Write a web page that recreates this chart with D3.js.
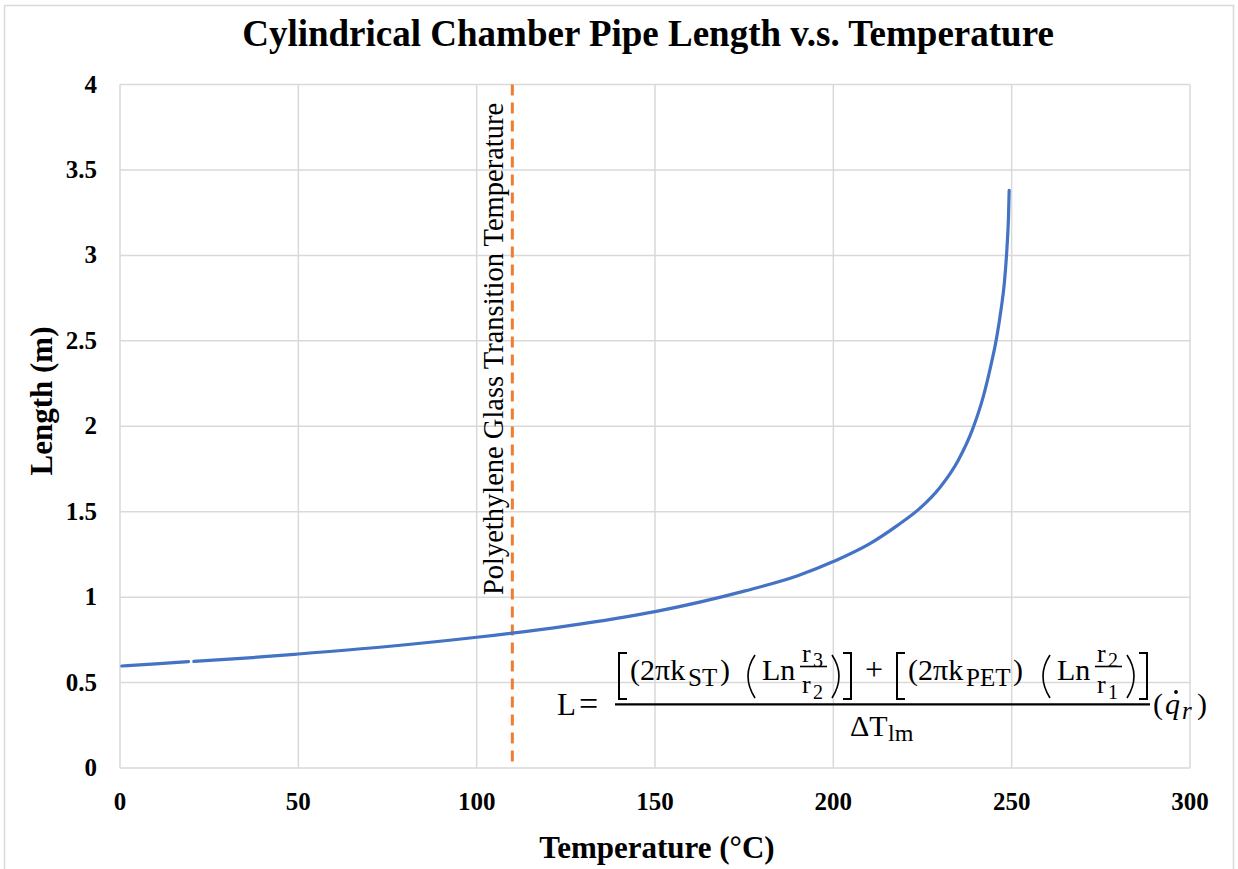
<!DOCTYPE html>
<html>
<head>
<meta charset="utf-8">
<script src="https://cdn.jsdelivr.net/npm/d3@7"></script>
<style>
  body { margin: 0; background: #fff; }
  text { font-family: "Liberation Serif", "Times New Roman", serif; fill: #000; }
  .tick-label { font-size: 25px; font-weight: bold; }
  .axis-title { font-size: 31px; font-weight: bold; }
  .chart-title { font-size: 37px; font-weight: bold; }
  .gridline { stroke: #d9d9d9; stroke-width: 1.5; }
</style>
</head>
<body>
<div id="chart"></div>
<script>
// Cylindrical chamber pipe length vs temperature
// X: temperature (°C), Y: length (m)

const temperature = [0.5, 10, 19.2, null, 20.7, 35, 50, 75, 100, 125, 150, 175, 190,
                     200, 210, 218, 224, 230, 235, 239, 242, 244, 245.8,
                     247, 248, 248.7, 249.1, 249.3];
const lengthM     = [0.597, 0.609, 0.622, null, 0.624, 0.643, 0.667, 0.711, 0.765, 0.830, 0.915, 1.035, 1.125,
                     1.208, 1.31, 1.42, 1.515, 1.645, 1.80, 1.98, 2.17, 2.34, 2.52,
                     2.68, 2.85, 3.05, 3.22, 3.38];

const xTicks = [0, 50, 100, 150, 200, 250, 300];
const yTicks = [0, 0.5, 1, 1.5, 2, 2.5, 3, 3.5, 4];
const yTickLabels = ["0", "0.5", "1", "1.5", "2", "2.5", "3", "3.5", "4"];

const glassTransition = 110;
const glassLabel = "Polyethylene Glass Transition Temperature";

function drawChart() {
  const W = 1238, H = 869;
  const plot = { left: 120, right: 1190, top: 84.5, bottom: 768 };

  const svg = d3.select("#chart").append("svg")
    .attr("width", W)
    .attr("height", H);

  svg.append("rect")
    .attr("width", W).attr("height", H)
    .attr("fill", "#fff");

  // outer chart border
  svg.append("rect")
    .attr("x", 4.5).attr("y", 5.5)
    .attr("width", 1229).attr("height", 880)
    .attr("fill", "none")
    .attr("stroke", "#d9d9d9")
    .attr("stroke-width", 1.5);

  const x = d3.scaleLinear().domain([0, 300]).range([plot.left, plot.right]);
  const y = d3.scaleLinear().domain([0, 4]).range([plot.bottom, plot.top]);

  // gridlines
  svg.append("g").selectAll("line")
    .data(yTicks).join("line")
    .attr("class", "gridline")
    .attr("x1", plot.left).attr("x2", plot.right)
    .attr("y1", d => y(d)).attr("y2", d => y(d));

  svg.append("g").selectAll("line")
    .data(xTicks).join("line")
    .attr("class", "gridline")
    .attr("x1", d => x(d)).attr("x2", d => x(d))
    .attr("y1", plot.top).attr("y2", plot.bottom);

  // tick labels
  svg.append("g").selectAll("text")
    .data(xTicks).join("text")
    .attr("class", "tick-label")
    .attr("x", d => x(d))
    .attr("y", 810)
    .attr("text-anchor", "middle")
    .text(d => d);

  svg.append("g").selectAll("text")
    .data(yTicks).join("text")
    .attr("class", "tick-label")
    .attr("x", 97)
    .attr("y", d => y(d) + 8)
    .attr("text-anchor", "end")
    .text((d, i) => yTickLabels[i]);

  // glass transition line
  svg.append("line")
    .attr("x1", x(glassTransition)).attr("x2", x(glassTransition))
    .attr("y1", plot.top).attr("y2", plot.bottom)
    .attr("stroke", "#ED7D31")
    .attr("stroke-width", 3)
    .attr("stroke-dasharray", "11,7");

  svg.append("text")
    .attr("transform", `translate(${x(glassTransition) - 9},349) rotate(-90)`)
    .attr("text-anchor", "middle")
    .style("font-size", "28.5px")
    .text(glassLabel);

  // curve
  const pts = temperature.map((t, i) => ({ t, l: lengthM[i] }));
  const line = d3.line()
    .defined(d => d.t !== null && d.l !== null)
    .x(d => x(d.t))
    .y(d => y(d.l))
    .curve(d3.curveMonotoneX);

  svg.append("path")
    .datum(pts)
    .attr("d", line)
    .attr("fill", "none")
    .attr("stroke", "#4472C4")
    .attr("stroke-width", 3.2)
    .attr("stroke-linecap", "round");

  // titles
  svg.append("text")
    .attr("class", "chart-title")
    .attr("x", 648).attr("y", 46)
    .attr("text-anchor", "middle")
    .text("Cylindrical Chamber Pipe Length v.s. Temperature");

  svg.append("text")
    .attr("class", "axis-title")
    .attr("x", 657).attr("y", 858)
    .attr("text-anchor", "middle")
    .text("Temperature (°C)");

  svg.append("text")
    .attr("class", "axis-title")
    .attr("transform", "translate(52,401) rotate(-90)")
    .attr("text-anchor", "middle")
    .text("Length (m)");

  drawEquation(svg);
}

// L = [(2πk_ST)(Ln r3/r2)] + [(2πk_PET)(Ln r2/r1)] / ΔT_lm · (q̇_r)
function drawEquation(svg) {
  const g = svg.append("g");
  const base = 680, top = 653, bot = 699;

  const txt = (xx, yy, s, size, style) => {
    const t = g.append("text").attr("x", xx).attr("y", yy).text(s)
      .style("font-size", (size || 30) + "px");
    if (style) t.style("font-style", style);
    return t;
  };
  const stroke = (p, w) => g.append("path").attr("d", p)
    .attr("fill", "none").attr("stroke", "#000").attr("stroke-width", w || 2);

  const lbr = xx => stroke(`M${xx + 8},${top} H${xx} V${bot} H${xx + 8}`);
  const rbr = xx => stroke(`M${xx - 8},${top} H${xx} V${bot} H${xx - 8}`);
  const lpar = xx => stroke(`M${xx + 8},${top + 2} Q${xx - 6},${(top + bot) / 2} ${xx + 8},${bot - 1}`, 1.6);
  const rpar = xx => stroke(`M${xx - 8},${top + 2} Q${xx + 6},${(top + bot) / 2} ${xx - 8},${bot - 1}`, 1.6);
  const frac = (xx, asub, bsub) => {
    txt(xx + 2, 662, "r", 26); txt(xx + 13, 667, asub, 20);
    g.append("line").attr("x1", xx).attr("x2", xx + 27)
      .attr("y1", 666.5).attr("y2", 666.5).attr("stroke", "#000").attr("stroke-width", 1.6);
    txt(xx + 2, 693, "r", 26); txt(xx + 13, 699, bsub, 20);
  };

  txt(557, 715, "L", 31);
  txt(579, 715, "=", 34);
  g.append("line").attr("x1", 615).attr("x2", 1150)
    .attr("y1", 704.3).attr("y2", 704.3)
    .attr("stroke", "#000").attr("stroke-width", 2.2);

  // first bracket
  lbr(619);
  txt(630, base, "(2πk");
  txt(688, base + 6, "ST", 25);
  txt(720, base, ")");
  lpar(747);
  txt(762, base, "Ln");
  frac(800, "3", "2");
  rpar(840);
  rbr(851);

  txt(865, base, "+", 32);

  // second bracket
  lbr(897);
  txt(908, base, "(2πk");
  txt(966, base + 6, "PET", 25);
  txt(1013, base, ")");
  lpar(1042);
  txt(1057, base, "Ln");
  frac(1095, "2", "1");
  rpar(1135);
  rbr(1147);

  // denominator
  txt(850, 736, "ΔT");
  txt(888, 741, "lm", 24);

  // (q̇_r)
  txt(1153, 714, "(");
  txt(1165, 714, "q", 30, "italic");
  g.append("circle").attr("cx", 1176).attr("cy", 692).attr("r", 1.9).attr("fill", "#000");
  txt(1182, 719, "r", 25, "italic");
  txt(1197, 714, ")");
}

drawChart();
</script>
</body>
</html>
